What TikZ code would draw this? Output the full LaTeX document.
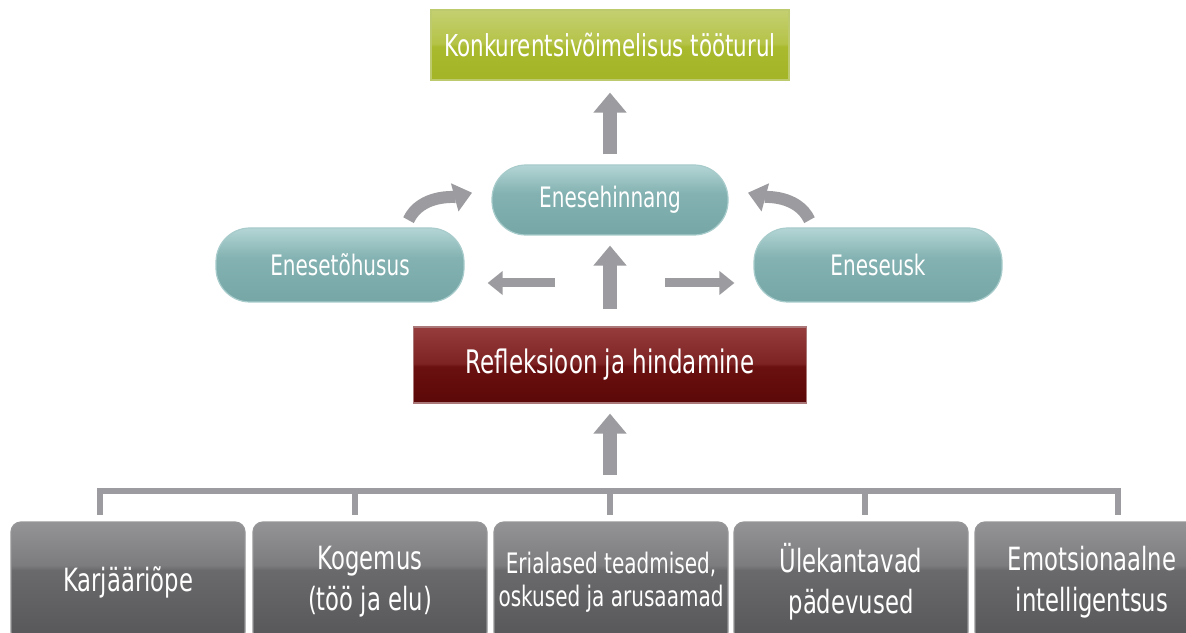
\documentclass[tikz,border=0pt]{standalone}
\usepackage{fontspec}
\setmainfont{DejaVu Sans}[FakeStretch=0.71]
\usetikzlibrary{arrows.meta}

\definecolor{arrowgray}{RGB}{155,155,160}
\definecolor{greenT}{RGB}{196,208,112}
\definecolor{greenL}{RGB}{181,195,72}
\definecolor{greenM}{RGB}{170,186,46}
\definecolor{greenB}{RGB}{163,180,38}
\definecolor{greenD}{RGB}{190,202,110}
\definecolor{redT}{RGB}{150,60,60}
\definecolor{redL}{RGB}{125,35,35}
\definecolor{redM}{RGB}{106,16,16}
\definecolor{redB}{RGB}{92,8,8}
\definecolor{redD}{RGB}{170,120,120}
\definecolor{tealT}{RGB}{180,213,213}
\definecolor{tealM}{RGB}{132,178,178}
\definecolor{tealB}{RGB}{118,166,166}
\definecolor{tealD}{RGB}{168,203,203}
\definecolor{grayT}{RGB}{148,148,151}
\definecolor{grayL}{RGB}{124,124,127}
\definecolor{grayM}{RGB}{106,106,108}
\definecolor{grayB}{RGB}{86,86,88}
\definecolor{grayD}{RGB}{150,150,152}

\pgfdeclareverticalshading{glossgreen}{100bp}{color(0bp)=(greenB); color(25bp)=(greenB); color(49bp)=(greenM); color(51bp)=(greenL); color(75bp)=(greenT); color(100bp)=(greenT)}
\pgfdeclareverticalshading{glossred}{100bp}{color(0bp)=(redB); color(25bp)=(redB); color(49bp)=(redM); color(51bp)=(redL); color(75bp)=(redT); color(100bp)=(redT)}
\pgfdeclareverticalshading{glossteal}{100bp}{color(0bp)=(tealB); color(25bp)=(tealB); color(55bp)=(tealM); color(75bp)=(tealT); color(100bp)=(tealT)}
\pgfdeclareverticalshading{glossgray}{100bp}{color(0bp)=(grayB); color(25bp)=(grayB); color(55bp)=(grayM); color(57bp)=(grayL); color(75bp)=(grayT); color(100bp)=(grayT)}

\begin{document}
\begin{tikzpicture}[x=0.5pt, y=0.5pt,
	box/.style={text=white, inner sep=0pt, align=center},
	greenbox/.style={box, shading=glossgreen, draw=greenD, line width=0.6pt, minimum width=179pt, minimum height=35pt, font=\fontsize{15.1}{18}\selectfont},
	pill/.style={box, shading=glossteal, draw=tealD, line width=0.6pt, rounded corners=17pt, minimum width=118pt, minimum height=35pt, font=\fontsize{14.1}{17}\selectfont},
	widepill/.style={pill, minimum width=124pt, minimum height=37pt},
	redbox/.style={box, shading=glossred, draw=redD, line width=0.6pt, minimum width=196.5pt, minimum height=38pt, font=\fontsize{16.2}{19}\selectfont},
	graybox/.style={box, shading=glossgray, draw=grayD, line width=0.6pt, rounded corners=5pt, minimum width=117pt, minimum height=60pt, font=\fontsize{16}{20.5}\selectfont},
	bigarrow/.style={draw=arrowgray, line width=7pt, -{Triangle[width=16pt,length=10pt]}},
	smallarrow/.style={draw=arrowgray, line width=4.5pt, -{Triangle[width=11.5pt,length=7.5pt]}},
	bentarrow/.style={draw=arrowgray, line width=6pt, -{Triangle[width=14pt,length=9pt]}},
	bracket/.style={draw=arrowgray, line width=3pt, line cap=rect}]
\clip (0,0) rectangle (1186,632);

\node[greenbox] (comp) at (610,587) {Konkurentsivõimelisus tööturul};
\node[pill] (hinnang) at (610,432) {Enesehinnang};
\node[widepill] (tohusus) at (340,367) {Enesetõhusus};
\node[widepill] (usk) at (878,367) {Eneseusk};
\node[redbox] (refl) at (610,267) {Refleksioon ja hindamine};

\node[graybox] (b1) at (128,50) {Karjääriõpe};
\node[graybox] (b2) at (370,50) {Kogemus\\(töö ja elu)};
\node[graybox, font=\fontsize{14.1}{16.5}\selectfont] (b3) at (611,50) {Erialased teadmised,\\oskused ja arusaamad};
\node[graybox] (b4) at (851,50) {Ülekantavad\\pädevused};
\node[graybox] (b5) at (1092,50) {Emotsionaalne\\intelligentsus};

\coordinate (hub) at (610,349);
\coordinate (bar) at (610,141);

\draw[bracket] ([shift={(-510,0)}]bar) -- ([shift={(508,0)}]bar);
\foreach \dx in {-510,-255,0,255,508}
	\draw[bracket] ([shift={(\dx,0)}]bar) -- ++(0,-21);

\path
(hinnang.north) edge[bigarrow, shorten <=5pt, shorten >=6pt] (comp.south)
(refl.north) edge[bigarrow, shorten <=8.5pt, shorten >=5pt] (hinnang.south)
(bar) edge[bigarrow, shorten <=8pt, shorten >=5pt] (refl.south)
(hub) edge[smallarrow, shorten <=27.5pt, shorten >=11.5pt] (hub -| tohusus.east)
(hub) edge[smallarrow, shorten <=27.5pt, shorten >=9.5pt] (hub -| usk.west)
(tohusus.30) edge[bentarrow, out=65, in=195, shorten <=4pt, shorten >=10pt] (hinnang.174)
(usk.150) edge[bentarrow, out=115, in=-15, shorten <=4pt, shorten >=10pt] (hinnang.6)
;
\end{tikzpicture}
\end{document}
